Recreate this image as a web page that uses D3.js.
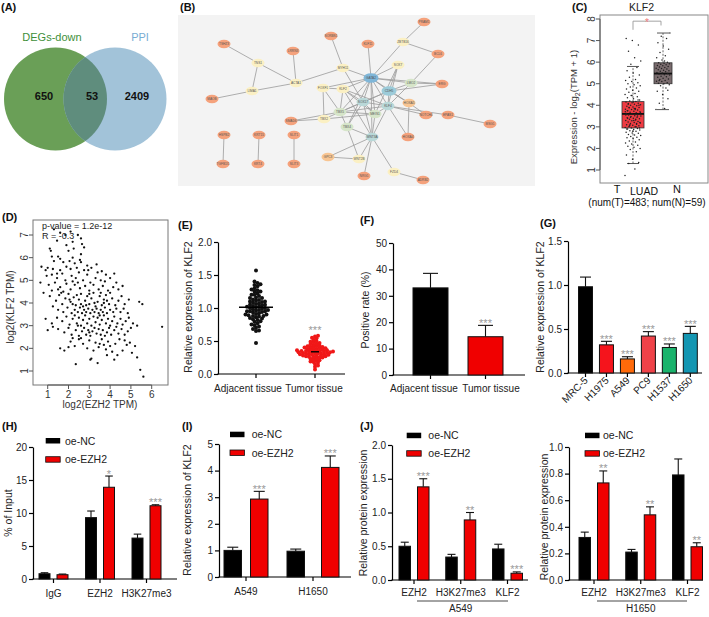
<!DOCTYPE html>
<html><head><meta charset="utf-8">
<script src="https://cdn.jsdelivr.net/npm/d3@7"></script>
<style>body{margin:0;background:#fff}svg{display:block}text{font-family:"Liberation Sans",Arial,Helvetica,sans-serif}</style>
</head><body><svg id="fig" width="709" height="617"></svg>
<script>
// ================= DATA =================
const vennLabels = ["DEGs-down", "PPI"];
const vennCounts = [650, 53, 2409];

const netNames = ["PRAM1","ZBTB16","BCL6","SORBS1","KLF11","TSHZ3","LRRN3","TNS1","SOX7","MYH11","GATA2","ACTA1","LMO2","ERG","FOXF1","KLF2","CDH5","LIMA1","MAOB","SOX17","TBX5","KLF4","HOXA5","MEIS1","NOTCH4","EPAS1","MSG1","TBX2","SMAD6","TBX4","WNT3A","HOXA4","HSPB2","KRT15","SLIT1","TGFB1I1","KRT4","SLIT3","GPC3","WNT2B","FZD4","NRG1","ADRB2"];
const netEdges = [["PRAM1","ZBTB16"],["ZBTB16","BCL6"],["ZBTB16","GATA2"],["BCL6","LMO2"],["SORBS1","MYH11"],["KLF11","GATA2"],["TSHZ3","TNS1"],["TNS1","ACTA1"],["TNS1","LIMA1"],["LRRN3","ACTA1"],["LIMA1","MAOB"],["LIMA1","ACTA1"],["ACTA1","MYH11"],["MYH11","GATA2"],["MYH11","SOX17"],["GATA2","SOX7"],["GATA2","LMO2"],["GATA2","CDH5"],["GATA2","KLF2"],["GATA2","FOXF1"],["GATA2","SOX17"],["GATA2","TBX5"],["GATA2","KLF4"],["GATA2","MEIS1"],["GATA2","WNT3A"],["GATA2","HOXA5"],["GATA2","ERG"],["GATA2","TBX4"],["CDH5","SOX7"],["CDH5","LMO2"],["CDH5","ERG"],["CDH5","KLF4"],["CDH5","SOX17"],["CDH5","TBX5"],["CDH5","HOXA5"],["SOX7","KLF4"],["SOX7","MEIS1"],["LMO2","ERG"],["LMO2","KLF4"],["KLF2","FOXF1"],["KLF2","SOX17"],["KLF2","TBX5"],["KLF2","KLF4"],["KLF2","WNT3A"],["KLF2","MEIS1"],["FOXF1","TBX2"],["FOXF1","TBX5"],["TBX5","SMAD6"],["TBX5","TBX4"],["TBX5","KLF4"],["TBX5","MEIS1"],["TBX5","TBX2"],["TBX5","SOX17"],["TBX2","SMAD6"],["TBX2","MEIS1"],["SOX17","KLF4"],["SOX17","MEIS1"],["SOX17","WNT3A"],["SOX17","TBX4"],["KLF4","EPAS1"],["KLF4","HOXA4"],["KLF4","MEIS1"],["KLF4","NOTCH4"],["KLF4","WNT3A"],["HOXA5","HOXA4"],["HOXA5","NOTCH4"],["EPAS1","MSG1"],["MEIS1","WNT3A"],["WNT3A","TBX4"],["WNT3A","WNT2B"],["WNT3A","NRG1"],["WNT3A","FZD4"],["WNT3A","GPC3"],["TBX4","WNT2B"],["WNT2B","GPC3"],["FZD4","ADRB2"],["HSPB2","TGFB1I1"],["KRT15","KRT4"],["SLIT1","SLIT3"]];

const cGroups = ["T", "N"];
const cStatsT = [1.3, 2.95, 3.6, 4.17, 5.8];
const cStatsN = [3.8, 5.0, 5.47, 5.97, 7.35];
const cPointsT = [0.75,1.05,1.3,1.35,1.5,1.7,1.85,1.95,2.0,2.05,2.1,2.15,2.2,2.25,2.3,2.35,2.4,2.45,2.5,2.52,2.55,2.6,2.62,2.65,2.7,2.72,2.75,2.8,2.82,2.85,2.88,2.9,2.92,2.95,2.97,3.0,3.02,3.05,3.08,3.1,3.12,3.15,3.18,3.2,3.22,3.25,3.28,3.3,3.32,3.35,3.38,3.4,3.42,3.45,3.48,3.5,3.52,3.55,3.58,3.6,3.62,3.65,3.68,3.7,3.72,3.75,3.78,3.8,3.82,3.85,3.88,3.9,3.92,3.95,3.98,4.0,4.02,4.05,4.08,4.1,4.12,4.15,4.18,4.2,4.25,4.3,4.35,4.4,4.45,4.5,4.55,4.6,4.65,4.7,4.75,4.8,4.85,4.9,4.95,5.0,5.05,5.1,5.15,5.2,5.3,5.4,5.5,5.6,5.75,5.9,6.05,6.2,6.5,6.8,7.0,7.1,3.0,3.1,3.2,3.3,3.4,3.5,3.6,3.7,3.8,3.9,4.0,2.8,2.9,3.15,3.45,3.65,3.85,4.05,4.25,4.45,3.55,3.35,3.05,2.95,4.15,3.75];
const cPointsN = [3.8,3.85,4.1,4.3,4.5,4.65,4.8,4.9,4.95,5.0,5.02,5.05,5.1,5.12,5.15,5.2,5.22,5.25,5.3,5.32,5.35,5.4,5.42,5.45,5.47,5.5,5.52,5.55,5.58,5.6,5.62,5.65,5.68,5.7,5.72,5.75,5.78,5.8,5.83,5.85,5.88,5.9,5.93,5.95,5.97,6.0,6.1,6.2,6.3,6.45,6.6,6.75,6.9,7.1,7.2,7.35,6.05,5.15,4.7];
const cTicks = [1,2,3,4,5,6,7,8];

const dPoints = [[1.3,7.25],[1.6,7.1],[1.85,7.0],[2.1,7.15],[2.45,7.0],[2.6,6.85],[2.65,6.6],[1.45,6.75],[1.9,6.55],[1.1,6.4],[1.15,6.3],[2.2,6.7],[2.75,6.45],
[1.5,6.05],[1.6,5.95],[2.0,6.3],[2.2,6.0],[2.6,6.15],[1.3,5.85],[1.75,5.8],[2.05,5.85],[2.3,5.75],[2.55,5.9],[2.9,5.65],[1.0,5.55],[1.25,5.5],[1.6,5.45],[1.9,5.6],[2.1,5.5],[2.4,5.55],[2.6,5.8],[3.35,5.7],[0.7,5.6],[0.9,5.45],[1.45,5.3],[2.75,5.45],[3.1,5.55],[3.6,5.4],[2.25,6.4],[1.2,6.05],
[0.95,5.2],[1.2,5.25],[1.45,5.1],[1.7,5.3],[1.85,5.0],[2.15,5.2],[2.35,5.1],[2.5,5.35],[2.7,5.0],[2.9,5.25],[3.05,4.9],[3.3,5.1],[3.55,5.0],[3.8,5.25],[4.0,5.1],[4.2,5.3],[1.05,4.8],[1.35,4.9],[1.6,4.7],[1.9,4.85],[2.1,4.6],[2.3,4.8],[2.55,4.65],[2.8,4.75],[3.0,4.55],[3.2,4.8],[3.45,4.6],[3.65,4.75],[3.9,4.55],[4.15,4.7],[4.4,4.6],[0.8,4.45],[1.2,4.55],[1.75,4.5],[2.45,4.9],[2.95,5.45],[3.4,5.35],[4.3,4.9],[1.5,4.6],[2.2,4.95],[0.65,4.9],[4.6,4.75],[3.75,4.95],
[1.1,4.3],[1.4,4.1],[1.55,4.35],[1.7,3.95],[1.85,4.2],[2.0,4.4],[2.1,4.05],[2.25,4.25],[2.35,3.9],[2.5,4.15],[2.6,4.4],[2.7,3.85],[2.8,4.1],[2.9,4.3],[3.0,3.95],[3.1,4.2],[3.2,4.45],[3.3,3.85],[3.4,4.05],[3.5,4.3],[3.6,3.9],[3.7,4.15],[3.8,4.35],[3.95,3.95],[4.1,4.2],[4.25,3.9],[4.4,4.1],[4.55,4.3],[4.7,3.95],[4.9,4.15],[5.4,4.05],[5.55,3.95],[1.5,3.7],[1.75,3.6],[1.95,3.8],[2.15,3.55],[2.3,3.7],[2.45,3.6],[2.55,3.8],[2.65,3.55],[2.75,3.7],[2.85,3.6],[2.95,3.75],[3.05,3.55],[3.15,3.7],[3.25,3.6],[3.35,3.75],[3.45,3.55],[3.55,3.7],[3.65,3.6],[3.75,3.8],[3.85,3.55],[4.0,3.7],[4.15,3.6],[4.3,3.75],[4.5,3.6],[4.65,3.75],[4.85,3.55],[1.25,3.85],[2.05,4.15],[2.4,4.35],[3.0,4.4],[3.55,4.45],[4.0,4.45],[1.65,4.45],[2.85,3.9],[3.25,4.0],[3.7,4.0],[2.2,3.95],[2.6,3.95],[3.85,4.1],
[0.9,3.3],[1.2,3.1],[1.45,3.35],[1.7,3.2],[1.9,3.4],[2.05,3.05],[2.2,3.3],[2.3,3.45],[2.4,3.1],[2.5,3.35],[2.6,3.0],[2.7,3.25],[2.8,3.45],[2.9,3.1],[3.0,3.3],[3.1,3.0],[3.2,3.4],[3.3,3.15],[3.4,3.35],[3.5,3.05],[3.6,3.25],[3.7,3.45],[3.8,3.1],[3.9,3.3],[4.0,3.0],[4.1,3.2],[4.2,3.4],[4.35,3.1],[4.5,3.3],[4.6,3.05],[4.75,3.2],[4.9,3.35],[5.1,3.1],[5.3,3.0],[1.5,2.85],[1.8,2.7],[2.0,2.9],[2.15,2.6],[2.35,2.8],[2.5,2.55],[2.65,2.75],[2.75,2.9],[2.85,2.6],[2.95,2.8],[3.05,2.55],[3.15,2.75],[3.25,2.9],[3.35,2.65],[3.45,2.85],[3.55,2.6],[3.65,2.8],[3.75,2.55],[3.85,2.7],[3.95,2.9],[4.05,2.6],[4.2,2.8],[4.4,2.65],[4.55,2.85],[4.7,2.6],[4.85,2.75],[5.0,2.9],[6.5,2.95],[1.0,2.8],[2.45,3.0],[3.0,2.7],[3.5,3.45],[4.3,2.95],[1.25,2.95],
[1.6,2.0],[1.8,1.9],[2.1,2.3],[2.3,2.1],[2.5,2.4],[2.7,2.2],[2.9,2.0],[3.0,2.35],[3.2,1.9],[3.3,2.25],[3.45,2.05],[3.6,2.4],[3.7,2.15],[3.8,1.95],[3.9,2.3],[4.0,2.1],[4.1,1.85],[4.25,2.2],[4.45,2.4],[4.6,1.9],[4.8,2.15],[4.95,2.25],[5.2,2.1],[5.3,1.6],[3.1,1.55],[4.2,1.5],[2.6,2.45],[3.5,2.2],[2.2,2.45],[4.7,2.35],[5.05,1.8],[3.85,1.7],[4.35,1.7],[2.0,2.05],
[2.35,1.3],[3.4,1.35],[5.45,1.05],[5.6,0.75],[3.05,1.5]];
const dXTicks = [1,2,3,4,5,6];
const dYTicks = [1,2,3,4,5,6,7];
const dStats = ["p-value = 1.2e-12", "R = -0.3"];

const eCats = ["Adjacent tissue", "Tumor tissue"];
const eAdjacent = [1.57,1.4,1.38,1.36,1.35,1.33,1.3,1.28,1.27,1.25,1.22,1.2,1.2,1.18,1.16,1.15,1.13,1.12,1.1,1.1,1.08,1.07,1.06,1.05,1.04,1.03,1.02,1.01,1.0,1.0,0.99,0.98,0.97,0.96,0.95,0.95,0.94,0.93,0.92,0.91,0.9,0.9,0.89,0.88,0.87,0.86,0.85,0.84,0.83,0.82,0.8,0.79,0.77,0.75,0.74,0.72,0.7,0.68,0.66,0.65,0.47,1.25,1.15,1.05,0.95,0.88,1.09,1.02,0.97,1.11];
const eTumor = [0.58,0.57,0.55,0.54,0.52,0.5,0.49,0.48,0.47,0.46,0.45,0.44,0.43,0.42,0.42,0.41,0.4,0.4,0.39,0.38,0.38,0.37,0.36,0.36,0.35,0.35,0.34,0.34,0.33,0.33,0.32,0.32,0.31,0.31,0.3,0.3,0.29,0.29,0.28,0.28,0.27,0.27,0.26,0.25,0.25,0.24,0.23,0.22,0.21,0.2,0.19,0.18,0.17,0.15,0.13,0.11,0.07,0.33,0.35,0.31,0.36,0.34,0.37,0.3,0.32,0.28,0.39,0.41,0.26,0.34];
const eTicks = [0, 0.5, 1.0, 1.5, 2.0];

const fCats = ["Adjacent tissue", "Tumor tissue"];
const fVals = [33, 14.5];
const fErr = [5.5, 4.3];
const fStars = ["", "***"];
const fTicks = [0,10,20,30,40,50];

const gCells = ["MRC-5","H1975","A549","PC9","H1537","H1650"];
const gVals = [0.98, 0.32, 0.16, 0.42, 0.29, 0.45];
const gErr = [0.11, 0.04, 0.025, 0.05, 0.04, 0.08];
const gStars = ["","***","***","***","***","***"];
const gTicks = [0, 0.5, 1.0, 1.5];

const seriesNames = ["oe-NC", "oe-EZH2"];
const hGroups = ["IgG","EZH2","H3K27me3"];
const hNC = [0.8, 9.3, 6.2];       const hNCerr = [0.15, 1.0, 0.6];
const hEZH2 = [0.65, 13.9, 11.1];  const hEZH2err = [0.1, 1.7, 0.15];
const hStars = ["", "*", "***"];
const hTicks = [0,5,10,15,20];

const iGroups = ["A549","H1650"];
const iNC = [1.0, 0.97];   const iNCerr = [0.12, 0.08];
const iEZH2 = [2.93, 4.12]; const iEZH2err = [0.29, 0.43];
const iStars = ["***","***"];
const iTicks = [0,1,2,3,4,5];

const jGroups = ["EZH2","H3K27me3","KLF2"];
const jaNC = [0.5, 0.34, 0.46];   const jaNCerr = [0.06, 0.04, 0.07];
const jaEZH2 = [1.38, 0.89, 0.1]; const jaEZH2err = [0.12, 0.11, 0.02];
const jaStars = ["***","**","***"];
const jaTicks = [0, 0.5, 1.0, 1.5, 2.0];
const jhNC = [0.32, 0.21, 0.79];  const jhNCerr = [0.04, 0.02, 0.12];
const jhEZH2 = [0.73, 0.49, 0.25]; const jhEZH2err = [0.09, 0.06, 0.03];
const jhStars = ["**","**","**"];
const jhTicks = [0, 0.2, 0.4, 0.6, 0.8, 1.0];

// ================= LAYOUT / STYLE =================
const FONT = '"Liberation Sans", Arial, Helvetica, sans-serif';
const svg = d3.select('#fig');
svg.append('rect').attr('width',709).attr('height',617).attr('fill','#fff');

function txt(s, x, y, o = {}) {
  const t = svg.append('text').attr('x', x).attr('y', y).text(s)
    .attr('font-size', o.size || 10).attr('fill', o.fill || '#111')
    .attr('text-anchor', o.anchor || 'start').attr('font-family', FONT);
  if (o.bold) t.attr('font-weight', 'bold');
  return t;
}
function vtxt(s, x, y, o = {}) {
  return svg.append('text').attr('transform', `translate(${x},${y}) rotate(-90)`)
    .attr('dy', '0.35em').attr('text-anchor', 'middle').attr('font-size', o.size || 10)
    .attr('fill', o.fill || '#111').attr('font-family', FONT).text(s);
}
function styleAxis(g) {
  g.attr('font-family', FONT);
  g.selectAll('path.domain').attr('stroke', '#000').attr('stroke-width', 1.2);
  g.selectAll('.tick line').attr('stroke', '#000').attr('stroke-width', 1.2);
  g.selectAll('.tick text').attr('fill', '#222').attr('font-size', 10);
}
function hline(x1, x2, y, w = 1.2, c = '#000') {
  svg.append('line').attr('x1', x1).attr('x2', x2).attr('y1', y).attr('y2', y).attr('stroke', c).attr('stroke-width', w);
}
function vline(x, y1, y2, w = 1.2, c = '#000') {
  svg.append('line').attr('x1', x).attr('x2', x).attr('y1', y1).attr('y2', y2).attr('stroke', c).attr('stroke-width', w);
}

// ---------- Panel labels ----------
[["(A)",1,11],["(B)",180,11],["(C)",572,11],["(D)",2,221],["(E)",178,229],["(F)",360,224],["(G)",540,227],["(H)",2,430],["(I)",182,430],["(J)",360,430]]
  .forEach(([s,x,y]) => txt(s, x, y, {size: 11, bold: true}));

// ---------- A: Venn ----------
(function(){
  const r = 51.5, cy = 99, cxs = [55.5, 115];
  const defs = svg.append('defs');
  defs.append('clipPath').attr('id','vclip').append('circle').attr('cx', cxs[0]).attr('cy', cy).attr('r', r);
  svg.append('circle').attr('cx', cxs[0]).attr('cy', cy).attr('r', r).attr('fill', '#6a9f57');
  svg.append('circle').attr('cx', cxs[1]).attr('cy', cy).attr('r', r).attr('fill', '#a2c3d9');
  svg.append('circle').attr('cx', cxs[1]).attr('cy', cy).attr('r', r).attr('fill', '#5f8d7d').attr('clip-path','url(#vclip)');
  txt(vennLabels[0], 52, 41, {size: 11, anchor: 'middle', fill: '#3e8f3a'});
  txt(vennLabels[1], 140, 41, {size: 11, anchor: 'middle', fill: '#78acd3'});
  [44, 92, 137].forEach((x, i) => txt(vennCounts[i], x, 100, {size: 11, bold: true, anchor: 'middle', fill: '#111'}));
})();

// ---------- B: Network ----------
(function(){
  const pos = {PRAM1:[246,7],ZBTB16:[225,27],BCL6:[260,39],SORBS1:[153,21],KLF11:[190,29],TSHZ3:[46,29],LRRN3:[115,36],TNS1:[80,48],SOX7:[220,50],MYH11:[165,53],GATA2:[193,63],ACTA1:[118,68],LMO2:[233,68],ERG:[264,69],FOXF1:[145,73],KLF2:[165,74],CDH5:[211,76],LIMA1:[74,76],MAOB:[34,84],SOX17:[185,87],TBX5:[162,97],KLF4:[210,91],HOXA5:[231,88],MEIS1:[197,99],NOTCH4:[248,100],EPAS1:[270,100],MSG1:[312,109],TBX2:[146,104],SMAD6:[113,106],TBX4:[169,112],WNT3A:[194,122],HOXA4:[230,122],HSPB2:[46,120],KRT15:[81,120],SLIT1:[116,120],TGFB1I1:[45,149],KRT4:[80,149],SLIT3:[116,149],GPC3:[150,142],WNT2B:[181,144],FZD4:[216,157],NRG1:[186,161],ADRB2:[245,165]};
  const kind = {GATA2:'b',CDH5:'b2',KLF4:'t',WNT3A:'t',SOX17:'t',LMO2:'g',TBX5:'g',MEIS1:'g',TBX4:'g',ZBTB16:'y',TNS1:'y',SOX7:'y',MYH11:'y',ACTA1:'y',FOXF1:'y',KLF2:'y',LIMA1:'y',TBX2:'y',WNT2B:'y',FZD4:'y',HOXA5:'lo',GPC3:'lo'};
  const fills = {o:'#f5a27c', lo:'#f8c592', y:'#fbf0c3', g:'#d6e5c9', t:'#b9d8d8', b:'#7fb6d8', b2:'#9ccbd9'};
  svg.append('rect').attr('x',178).attr('y',15).attr('width',357).attr('height',171).attr('fill','#f3f3f3');
  const x = d3.scaleLinear().domain([0,357]).range([178,535]);
  const y = d3.scaleLinear().domain([0,171]).range([15,186]);
  const g = svg.append('g');
  g.selectAll('line').data(netEdges).join('line')
    .attr('x1', d => x(pos[d[0]][0])).attr('y1', d => y(pos[d[0]][1]))
    .attr('x2', d => x(pos[d[1]][0])).attr('y2', d => y(pos[d[1]][1]))
    .attr('stroke', '#9a9a9a').attr('stroke-width', 0.8);
  const n = g.selectAll('g.n').data(netNames).join('g').attr('transform', d => `translate(${x(pos[d][0])},${y(pos[d][1])})`);
  n.append('ellipse').attr('rx', d => (kind[d]==='b'||kind[d]==='b2') ? 7.5 : 6.5).attr('ry', d => (kind[d]==='b'||kind[d]==='b2') ? 4.8 : 4.2)
    .attr('fill', d => fills[kind[d] || 'o']);
  n.append('text').attr('text-anchor','middle').attr('dy','0.35em').attr('font-size', 3.2).attr('fill','#555').attr('font-family', FONT).text(d => d);
})();

// ---------- C: GEPIA box plot ----------
(function(){
  const y = d3.scaleLinear().domain([1,8]).range([170,19]);
  const xc = d3.scalePoint().domain(cGroups).range([633, 663]);
  svg.append('rect').attr('x',600).attr('y',15).attr('width',108).attr('height',168).attr('fill','none').attr('stroke','#888').attr('stroke-width',1);
  cTicks.forEach(t => { hline(596, 600, y(t), 1, '#555'); });
  svg.append('line').attr('x1',600).attr('x2',600).attr('y1',y(1)).attr('y2',y(8)).attr('stroke','#555');
  cTicks.forEach(t => vtxt(t, 591, y(t), {size: 10, fill: '#333'}));
  const tl = svg.append('text').attr('transform','translate(574,107) rotate(-90)').attr('dy','0.35em').attr('text-anchor','middle').attr('font-size',9.5).attr('fill','#333').attr('font-family',FONT);
  tl.append('tspan').text('Expression - log');
  tl.append('tspan').attr('font-size',7).attr('dy','2.5').text('2');
  tl.append('tspan').attr('dy','-2.5').text('(TPM + 1)');
  txt('KLF2', 641.5, 11, {size: 10.5, anchor: 'middle', fill: '#222'});
  const stats = [cStatsT, cStatsN], fillsC = ['#ef3b42', '#7a6c6e'], halfW = [11, 9];
  cGroups.forEach((gname, i) => {
    const s = stats[i], cx = xc(gname), hw = halfW[i];
    svg.append('line').attr('x1',cx).attr('x2',cx).attr('y1',y(s[0])).attr('y2',y(s[1])).attr('stroke','#444').attr('stroke-dasharray','2,1.5').attr('stroke-width',0.8);
    svg.append('line').attr('x1',cx).attr('x2',cx).attr('y1',y(s[3])).attr('y2',y(s[4])).attr('stroke','#444').attr('stroke-dasharray','2,1.5').attr('stroke-width',0.8);
    hline(cx-6, cx+6, y(s[0]), 0.9, '#444'); hline(cx-6, cx+6, y(s[4]), 0.9, '#444');
    svg.append('rect').attr('x',cx-hw).attr('y',y(s[3])).attr('width',2*hw).attr('height',y(s[1])-y(s[3]))
      .attr('fill',fillsC[i]).attr('stroke','#333').attr('stroke-width',0.8);
    hline(cx-hw, cx+hw, y(s[2]), 1.8, '#111');
  });
  const pts = [cPointsT, cPointsN], jw = [8, 7];
  cGroups.forEach((gname, i) => {
    svg.append('g').selectAll('circle').data(pts[i]).join('circle')
      .attr('cx', (d, k) => xc(gname) + (((k * 0.6180339887) % 1) - 0.5) * 2 * jw[i])
      .attr('cy', d => y(d)).attr('r', 0.75).attr('fill', '#222');
  });
  const bx1 = xc('T'), bx2 = xc('N') - 2;
  svg.append('path').attr('d', `M${bx1},${y(7.5)}V${y(7.9)}H${bx2}V${y(7.7)}`).attr('fill','none').attr('stroke','#999').attr('stroke-width',0.9);
  txt('*', 647, y(7.9) + 5, {size: 10, anchor: 'middle', fill: '#f07b7b'});
  txt('T', 617, 192.5, {size: 11, anchor: 'middle'});
  txt('LUAD', 644, 195, {size: 10.5, anchor: 'middle'});
  txt('N', 677, 192.5, {size: 11, anchor: 'middle'});
  txt('(num(T)=483; num(N)=59)', 647, 206, {size: 10, anchor: 'middle'});
})();

// ---------- D: scatter ----------
(function(){
  const x = d3.scaleLinear().domain([1,6]).range([47.7,151.7]);
  const y = d3.scaleLinear().domain([1,7]).range([371,235]);
  svg.append('rect').attr('x',33).attr('y',220).attr('width',135).attr('height',165).attr('fill','none').attr('stroke','#777').attr('stroke-width',1);
  dXTicks.forEach(t => { vline(x(t), 385, 389, 1, '#555'); txt(t, x(t), 397.5, {size: 10, anchor: 'middle', fill: '#333'}); });
  svg.append('line').attr('x1',x(1)).attr('x2',x(6)).attr('y1',385).attr('y2',385).attr('stroke','#555');
  dYTicks.forEach(t => { hline(29, 33, y(t), 1, '#555'); vtxt(t, 24, y(t), {size: 10, fill: '#333'}); });
  svg.append('g').selectAll('circle').data(dPoints).join('circle')
    .attr('cx', d => x(d[0])).attr('cy', d => y(d[1])).attr('r', 1.15).attr('fill', '#111');
  txt(dStats[0], 42, 229, {size: 9, fill: '#222'});
  txt(dStats[1], 42, 239, {size: 9, fill: '#222'});
  txt('log2(EZH2 TPM)', 100, 407.5, {size: 10, anchor: 'middle', fill: '#333'});
  vtxt('log2(KLF2 TPM)', 10, 307, {size: 10, fill: '#333'});
})();

// ---------- generic GraphPad-style axes ----------
function gpAxes(o) {
  const y = d3.scaleLinear().domain([0, o.yMax]).range([o.y0, o.yTop]);
  const ga = svg.append('g').attr('transform', `translate(${o.ax},0)`)
    .call(d3.axisLeft(y).tickValues(o.ticks).tickFormat(o.fmt).tickSize(4).tickSizeOuter(0).tickPadding(2));
  styleAxis(ga);
  hline(o.ax - 0.6, o.axEnd, o.y0);
  return y;
}

// ---------- E: scatter dot plot ----------
(function(){
  const o = {ax: 218, axEnd: 345, yTop: 242, y0: 374, yMax: 2, ticks: eTicks, fmt: d3.format('.1f')};
  const y = gpAxes(o);
  const x = d3.scalePoint().domain(eCats).range([256, 315]);
  const labelDx = [-8, -1];
  eCats.forEach((c, i) => { vline(x(c), o.y0, o.y0 + 4); txt(c, x(c) + labelDx[i], 392, {size: 10, anchor: 'middle', fill: '#222'}); });
  vtxt('Relative expression of KLF2', 188, 307, {size: 10.5, fill: '#222'});
  function swarm(vals, cx, dist, step) {
    const pts = vals.map(v => ({v, y: y(v)})).sort((a, b) => a.v - b.v);
    const placed = [];
    pts.forEach(p => {
      for (let k = 0; k < 80; k++) {
        const off = (k === 0 ? 0 : (k % 2 ? 1 : -1) * Math.ceil(k / 2)) * step;
        const xx = cx + off;
        if (placed.every(q => (q.x - xx) ** 2 + (q.y - p.y) ** 2 >= dist * dist)) { p.x = xx; placed.push(p); break; }
      }
    });
    return placed;
  }
  const sets = [eAdjacent, eTumor], cols = ['#111', '#f01818'], lineHalf = [17, 4], dists = [3.0, 2.4];
  sets.forEach((vals, i) => {
    const pts = swarm(vals, x(eCats[i]), dists[i], 1.5);
    svg.append('g').selectAll('circle').data(pts).join('circle').attr('cx', d => d.x).attr('cy', d => d.y).attr('r', 2.0).attr('fill', cols[i]);
    const m = d3.mean(vals);
    hline(x(eCats[i]) - lineHalf[i], x(eCats[i]) + lineHalf[i], y(m), 1.4, '#000');
  });
  txt('***', x(eCats[1]), 334, {size: 11, anchor: 'middle', fill: '#999'});
})();

// ---------- bars ----------
function barPanel(o) {
  const y = gpAxes(o);
  const gx = d3.scalePoint().domain(o.groups).range(o.centers);
  o.groups.forEach((gname, gi) => vline(gx(gname), o.y0, o.y0 + 4));
  o.groups.forEach((gname, gi) => {
    const half = Array.isArray(o.half) ? o.half[gi] : o.half;
    const ns = o.series.length;
    const pad = ns > 1 ? (2 * half - ns * o.bw) / (2 * half - o.bw) : 0;
    const band = d3.scaleBand().domain(o.series.map(s => s.name)).range([gx(gname) - half, gx(gname) + half]).paddingInner(pad);
    o.series.forEach(s => {
      const v = s.vals[gi], e = s.err[gi], bx = band(s.name), bw = band.bandwidth(), cx = bx + bw / 2;
      const col = Array.isArray(s.color) ? s.color[gi] : s.color;
      vline(cx, y(v), y(v + e), 1.1, '#111');
      hline(cx - o.cap, cx + o.cap, y(v + e), 1.1, '#111');
      svg.append('rect').attr('x', bx).attr('y', y(v)).attr('width', bw).attr('height', o.y0 - y(v))
        .attr('fill', col).attr('stroke', '#111').attr('stroke-width', 1);
      const st = s.stars ? s.stars[gi] : '';
      if (st) txt(st, cx, y(v + e) + 1.5, {size: 11, anchor: 'middle', fill: '#999'});
    });
  });
  return gx;
}
function legend(x, y1, y2, tx) {
  svg.append('rect').attr('x', x).attr('y', y1).attr('width', 14.5).attr('height', 5.5).attr('fill', '#000');
  svg.append('rect').attr('x', x).attr('y', y2).attr('width', 14.5).attr('height', 5.5).attr('fill', '#f00000').attr('stroke', '#111').attr('stroke-width', 0.8);
  txt(seriesNames[0], tx, y1 + 6.5, {size: 10.5, fill: '#222'});
  txt(seriesNames[1], tx, y2 + 6.5, {size: 10.5, fill: '#222'});
}

// F
(function(){
  const gx = barPanel({ax: 393, axEnd: 525, yTop: 243, y0: 375, yMax: 50, ticks: fTicks, fmt: d3.format('d'),
    groups: fCats, centers: [430.5, 485.5], half: 17.5, bw: 35, cap: 7.5,
    series: [{name: 'v', vals: fVals, err: fErr, color: ['#000', '#f00000'], stars: fStars}]});
  const dx = [-6.5, 5.5];
  fCats.forEach((c, i) => txt(c, gx(c) + dx[i], 392, {size: 10, anchor: 'middle', fill: '#222'}));
  vtxt('Positive rate (%)', 365, 310, {size: 10.5, fill: '#222'});
})();

// G
(function(){
  const gx = barPanel({ax: 568, axEnd: 702, yTop: 241, y0: 373, yMax: 1.5, ticks: gTicks, fmt: d3.format('.1f'),
    groups: gCells, centers: [585.5, 690.3], half: 7, bw: 14, cap: 5.5,
    series: [{name: 'v', vals: gVals, err: gErr, color: ['#000', '#f5141c', '#ff6a0a', '#ef4249', '#1ab36c', '#1396b2'], stars: gStars}]});
  gCells.forEach(c => svg.append('text').attr('transform', `translate(${gx(c) + 3},${381}) rotate(-45)`)
    .attr('text-anchor', 'end').attr('font-size', 10).attr('fill', '#222').attr('font-family', FONT).text(c));
  vtxt('Relative expression of KLF2', 540, 307, {size: 10.5, fill: '#222'});
})();

// H
(function(){
  const gx = barPanel({ax: 33, axEnd: 177, yTop: 447, y0: 579, yMax: 20, ticks: hTicks, fmt: d3.format('d'),
    groups: hGroups, centers: [53.5, 146.5], half: 14.5, bw: 11, cap: 3.8,
    series: [{name: seriesNames[0], vals: hNC, err: hNCerr, color: '#000'},
             {name: seriesNames[1], vals: hEZH2, err: hEZH2err, color: '#f00000', stars: hStars}]});
  hGroups.forEach(c => txt(c, gx(c), 597, {size: 10, anchor: 'middle', fill: '#222'}));
  legend(45.7, 438, 456.7, 65);
  vtxt('% of Input', 8, 513, {size: 10.5, fill: '#222'});
})();

// I
(function(){
  const gx = barPanel({ax: 219, axEnd: 351, yTop: 444, y0: 577, yMax: 5, ticks: iTicks, fmt: d3.format('d'),
    groups: iGroups, centers: [246, 313], half: [22, 26], bw: 17.5, cap: 5.5,
    series: [{name: seriesNames[0], vals: iNC, err: iNCerr, color: '#000'},
             {name: seriesNames[1], vals: iEZH2, err: iEZH2err, color: '#f00000', stars: iStars}]});
  iGroups.forEach(c => txt(c, gx(c), 595, {size: 10, anchor: 'middle', fill: '#222'}));
  legend(230, 431.7, 450, 251.7);
  vtxt('Relative expression of KLF2', 187, 510, {size: 10.5, fill: '#222'});
})();

// J left (A549)
(function(){
  const gx = barPanel({ax: 392, axEnd: 528, yTop: 445, y0: 580, yMax: 2, ticks: jaTicks, fmt: d3.format('.1f'),
    groups: jGroups, centers: [414, 507.5], half: 15, bw: 11.5, cap: 4,
    series: [{name: seriesNames[0], vals: jaNC, err: jaNCerr, color: '#000'},
             {name: seriesNames[1], vals: jaEZH2, err: jaEZH2err, color: '#f00000', stars: jaStars}]});
  jGroups.forEach(c => txt(c, gx(c), 596, {size: 10, anchor: 'middle', fill: '#222'}));
  hline(417, 508, 601, 0.9, '#333');
  txt('A549', gx('H3K27me3'), 612, {size: 10, anchor: 'middle', fill: '#222'});
  legend(406.7, 432.7, 450.7, 428.3);
  vtxt('Relative protein expression', 363, 513, {size: 10.5, fill: '#222'});
})();

// J right (H1650)
(function(){
  const gx = barPanel({ax: 569, axEnd: 703, yTop: 447, y0: 580, yMax: 1, ticks: jhTicks, fmt: d3.format('.1f'),
    groups: jGroups, centers: [594, 687.5], half: 15, bw: 11.5, cap: 4,
    series: [{name: seriesNames[0], vals: jhNC, err: jhNCerr, color: '#000'},
             {name: seriesNames[1], vals: jhEZH2, err: jhEZH2err, color: '#f00000', stars: jhStars}]});
  jGroups.forEach(c => txt(c, gx(c), 596, {size: 10, anchor: 'middle', fill: '#222'}));
  hline(597, 687, 601, 0.9, '#333');
  txt('H1650', gx('H3K27me3'), 612, {size: 10, anchor: 'middle', fill: '#222'});
  legend(585, 432.7, 450.7, 603);
  vtxt('Relative protein expression', 544, 517, {size: 10.5, fill: '#222'});
})();
</script></body></html>
